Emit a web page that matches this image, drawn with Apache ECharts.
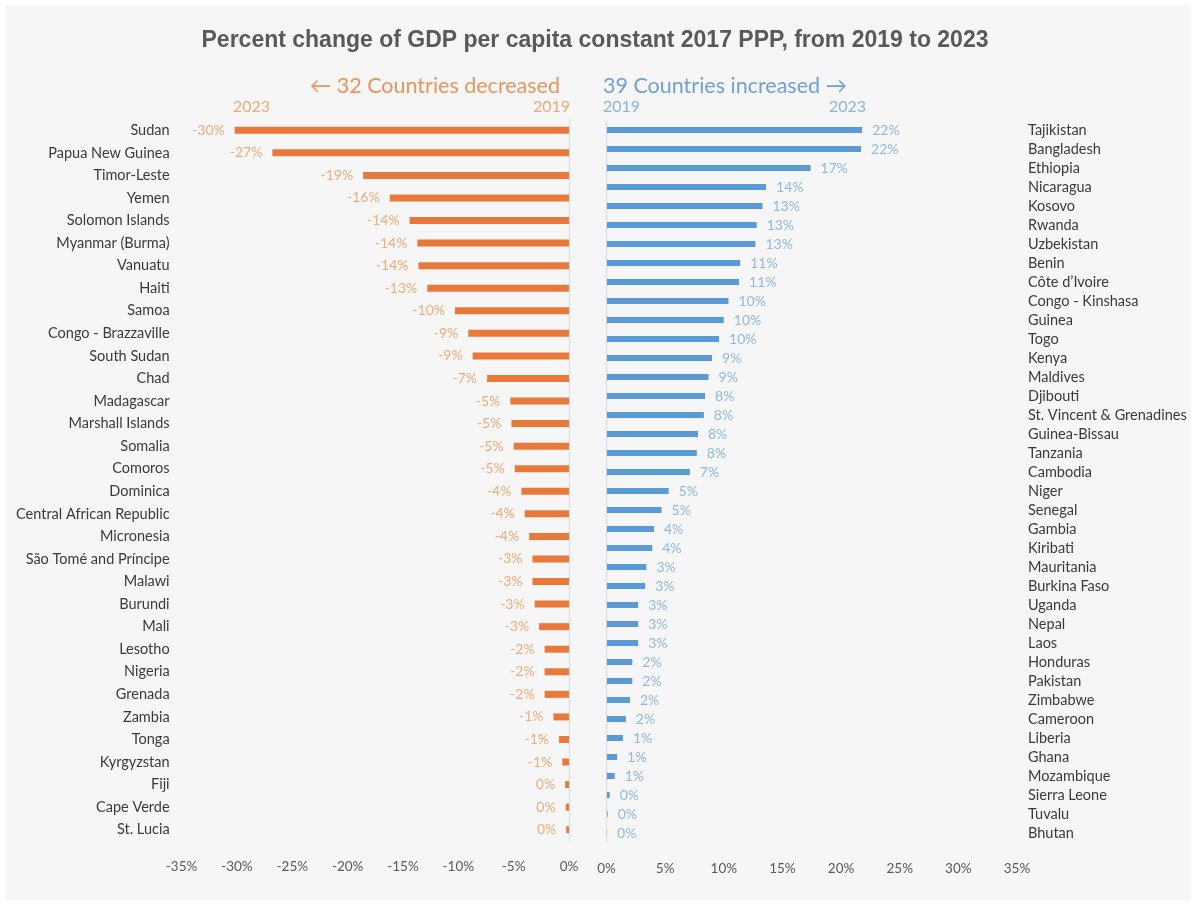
<!DOCTYPE html>
<html>
<head>
<meta charset="utf-8">
<script src="https://cdn.jsdelivr.net/npm/echarts@6/dist/echarts.min.js"></script>
<style>
html,body{margin:0;padding:0;background:#fff;}
#chart{width:1195px;height:906px;}
</style>
</head>
<body>
<div id="chart"></div>
<script>
const titleText = "Percent change of GDP per capita constant 2017 PPP, from 2019 to 2023";
const decreasedHeader = "\u2190 32 Countries decreased";
const increasedHeader = "39 Countries increased \u2192";
const yearLabels = ["2023", "2019", "2019", "2023"];

const leftCountries = ["Sudan","Papua New Guinea","Timor-Leste","Yemen","Solomon Islands","Myanmar (Burma)","Vanuatu","Haiti","Samoa","Congo - Brazzaville","South Sudan","Chad","Madagascar","Marshall Islands","Somalia","Comoros","Dominica","Central African Republic","Micronesia","São Tomé and Príncipe","Malawi","Burundi","Mali","Lesotho","Nigeria","Grenada","Zambia","Tonga","Kyrgyzstan","Fiji","Cape Verde","St. Lucia"];
const leftValues = [-30.2,-26.8,-18.6,-16.2,-14.4,-13.7,-13.6,-12.8,-10.3,-9.1,-8.7,-7.4,-5.3,-5.2,-5.0,-4.9,-4.3,-4.0,-3.6,-3.3,-3.3,-3.1,-2.7,-2.2,-2.2,-2.2,-1.4,-0.9,-0.6,-0.35,-0.3,-0.25];

const rightCountries = ["Tajikistan","Bangladesh","Ethiopia","Nicaragua","Kosovo","Rwanda","Uzbekistan","Benin","Côte d’Ivoire","Congo - Kinshasa","Guinea","Togo","Kenya","Maldives","Djibouti","St. Vincent & Grenadines","Guinea-Bissau","Tanzania","Cambodia","Niger","Senegal","Gambia","Kiribati","Mauritania","Burkina Faso","Uganda","Nepal","Laos","Honduras","Pakistan","Zimbabwe","Cameroon","Liberia","Ghana","Mozambique","Sierra Leone","Tuvalu","Bhutan"];
const rightValues = [21.8,21.7,17.4,13.6,13.3,12.8,12.7,11.4,11.3,10.4,10.0,9.6,9.0,8.7,8.4,8.3,7.8,7.7,7.1,5.3,4.7,4.05,3.9,3.4,3.3,2.7,2.7,2.7,2.2,2.2,2.0,1.65,1.4,0.9,0.7,0.27,0.1,0.05];

const leftTicks = {min:-35, max:0, interval:5};
const rightTicks = {min:0, max:35, interval:5};

const ORANGE = '#E8793A', BLUE = '#5B9BD5';
const ORANGE_LBL = '#F2AC7C', BLUE_LBL = '#93B9E2';
const TXT = '#3A3A3A', TICK = '#595959';
const pct = v => `${Math.round(v)}%`;

const chart = echarts.init(document.getElementById('chart'));
chart.setOption({
  backgroundColor: '#ffffff',
  animation: false,
  title: {
    text: titleText, left: 590, top: 24, textAlign: 'center',
    textStyle: {fontFamily: 'Liberation Sans', fontWeight: 'bold', fontSize: 23, color: '#595959'}
  },
  graphic: [
    {type:'rect', z:-10, silent:true, shape:{x:6,y:5,width:1184,height:895}, style:{fill:'#F6F6F6'}},
    {type:'text', x:560, y:86, style:{text:decreasedHeader, fill:'#E9955E', font:'21.5px Lato, "DejaVu Sans"', textAlign:'right', textVerticalAlign:'middle'}},
    {type:'text', x:603, y:86, style:{text:increasedHeader, fill:'#6FA1D6', font:'21.5px Lato, "DejaVu Sans"', textAlign:'left', textVerticalAlign:'middle'}},
    {type:'text', x:233, y:107, style:{text:yearLabels[0], fill:'#EFAA78', font:'16px Lato', textAlign:'left', textVerticalAlign:'middle'}},
    {type:'text', x:570, y:107, style:{text:yearLabels[1], fill:'#EFAA78', font:'16px Lato', textAlign:'right', textVerticalAlign:'middle'}},
    {type:'text', x:603, y:107, style:{text:yearLabels[2], fill:'#8DB4E0', font:'16px Lato', textAlign:'left', textVerticalAlign:'middle'}},
    {type:'text', x:866, y:107, style:{text:yearLabels[3], fill:'#8DB4E0', font:'16px Lato', textAlign:'right', textVerticalAlign:'middle'}}
  ],
  grid: [
    {left: 181.6, width: 387.4, top: 119, height: 722},
    {left: 606.5, width: 410.5, top: 120.5, height: 722}
  ],
  xAxis: [
    {gridIndex:0, type:'value', min:leftTicks.min, max:leftTicks.max, interval:leftTicks.interval,
     axisLine:{show:false}, axisTick:{show:false}, splitLine:{show:false},
     axisLabel:{formatter: v => `${v}%`, color:TICK, fontFamily:'Lato', fontSize:13.5, margin:19}},
    {gridIndex:1, type:'value', min:rightTicks.min, max:rightTicks.max, interval:rightTicks.interval,
     axisLine:{show:false}, axisTick:{show:false}, splitLine:{show:false},
     axisLabel:{formatter: v => `${v}%`, color:TICK, fontFamily:'Lato', fontSize:13.5, margin:19}}
  ],
  yAxis: [
    {gridIndex:0, type:'category', data:leftCountries, inverse:true, position:'left',
     axisLine:{show:false}, axisTick:{show:false},
     axisLabel:{color:TXT, fontFamily:'Lato', fontSize:14.5, margin:12, interval:0}},
    {gridIndex:1, type:'category', data:rightCountries, inverse:true, position:'right',
     axisLine:{show:false}, axisTick:{show:false},
     axisLabel:{color:TXT, fontFamily:'Lato', fontSize:14.5, margin:11, interval:0, align:'left'}}
  ],
  series: [
    {type:'bar', xAxisIndex:0, yAxisIndex:0, data:leftValues, barWidth:7,
     itemStyle:{color:ORANGE},
     label:{show:true, position:'left', distance:10, formatter: p => pct(p.value), color:ORANGE_LBL, fontFamily:'Lato', fontSize:14},
     markLine:{silent:true, symbol:'none', label:{show:false}, lineStyle:{color:'#D6DCE4', width:1, type:'solid'}, data:[{xAxis:0}]}},
    {type:'bar', xAxisIndex:1, yAxisIndex:1, data:rightValues, barWidth:6,
     itemStyle:{color:BLUE},
     label:{show:true, position:'right', distance:10, formatter: p => pct(p.value), color:BLUE_LBL, fontFamily:'Lato', fontSize:14},
     markLine:{silent:true, symbol:'none', label:{show:false}, lineStyle:{color:'#D6DCE4', width:1, type:'solid'}, data:[{xAxis:0}]}}
  ]
});
</script>
</body>
</html>
